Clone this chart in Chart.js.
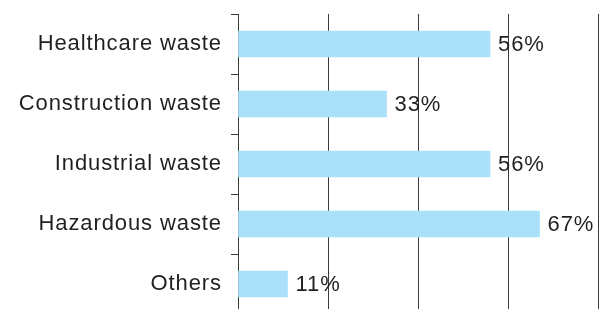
<!DOCTYPE html>
<html>
<head>
<meta charset="utf-8">
<script src="https://cdn.jsdelivr.net/npm/chart.js@4/dist/chart.umd.min.js"></script>
<style>
  html, body { margin: 0; padding: 0; background: #fff; overflow: hidden; }
  #wrap { width: 614px; height: 309px; overflow: hidden; }
  canvas { display: block; }
</style>
</head>
<body>
<div id="wrap"><canvas id="c" width="614" height="314"></canvas></div>
<script>
const categories = ["Healthcare waste", "Construction waste", "Industrial waste", "Hazardous waste", "Others"];
const values = [56, 33, 56, 67, 11];
const valueLabels = ["56%", "33%", "56%", "67%", "11%"];
const xTicks = [0, 20, 40, 60, 80];

const TEXT = '#231f20';
const FONT = { family: '"Liberation Sans", Arial, sans-serif', size: 22 };

const spacing = {
  id: 'spacing',
  beforeDraw(chart) { chart.ctx.letterSpacing = '0.9px'; }
};

const valueLabelPlugin = {
  id: 'valueLabels',
  afterDatasetsDraw(chart) {
    const ctx = chart.ctx;
    const meta = chart.getDatasetMeta(0);
    ctx.save();
    ctx.font = `${FONT.size}px ${FONT.family}`;
    ctx.fillStyle = TEXT;
    ctx.textAlign = 'left';
    ctx.textBaseline = 'middle';
    meta.data.forEach((bar, i) => {
      ctx.fillText(valueLabels[i], bar.x + 8, bar.y + 1);
    });
    ctx.restore();
  }
};

new Chart(document.getElementById('c'), {
  type: 'bar',
  data: {
    labels: categories,
    datasets: [{
      data: values,
      backgroundColor: '#abe0fa',
      borderWidth: 0,
      barThickness: 26
    }]
  },
  options: {
    indexAxis: 'y',
    responsive: false,
    animation: false,
    layout: { padding: { top: 14, right: 16, left: 0, bottom: 0 } },
    plugins: { legend: { display: false }, tooltip: { enabled: false } },
    scales: {
      x: {
        min: 0, max: 80,
        afterBuildTicks(scale) { scale.ticks = xTicks.map(v => ({ value: v })); },
        ticks: { display: false },
        grid: { color: '#3a3a3a', lineWidth: 1, drawTicks: false },
        border: { display: false },
        afterFit(scale) { scale.height = 0; scale.paddingLeft = 0; scale.paddingRight = 0; }
      },
      y: {
        offset: true,
        grid: { offset: true, drawOnChartArea: false, color: '#3a3a3a', tickLength: 7, lineWidth: 1 },
        border: { display: true, color: '#3a3a3a', width: 1 },
        ticks: { color: TEXT, font: FONT, padding: 9 },
        afterFit(scale) { scale.width = 238; scale.paddingTop = 0; scale.paddingBottom = 0; }
      }
    }
  },
  plugins: [spacing, valueLabelPlugin]
});
</script>
</body>
</html>
